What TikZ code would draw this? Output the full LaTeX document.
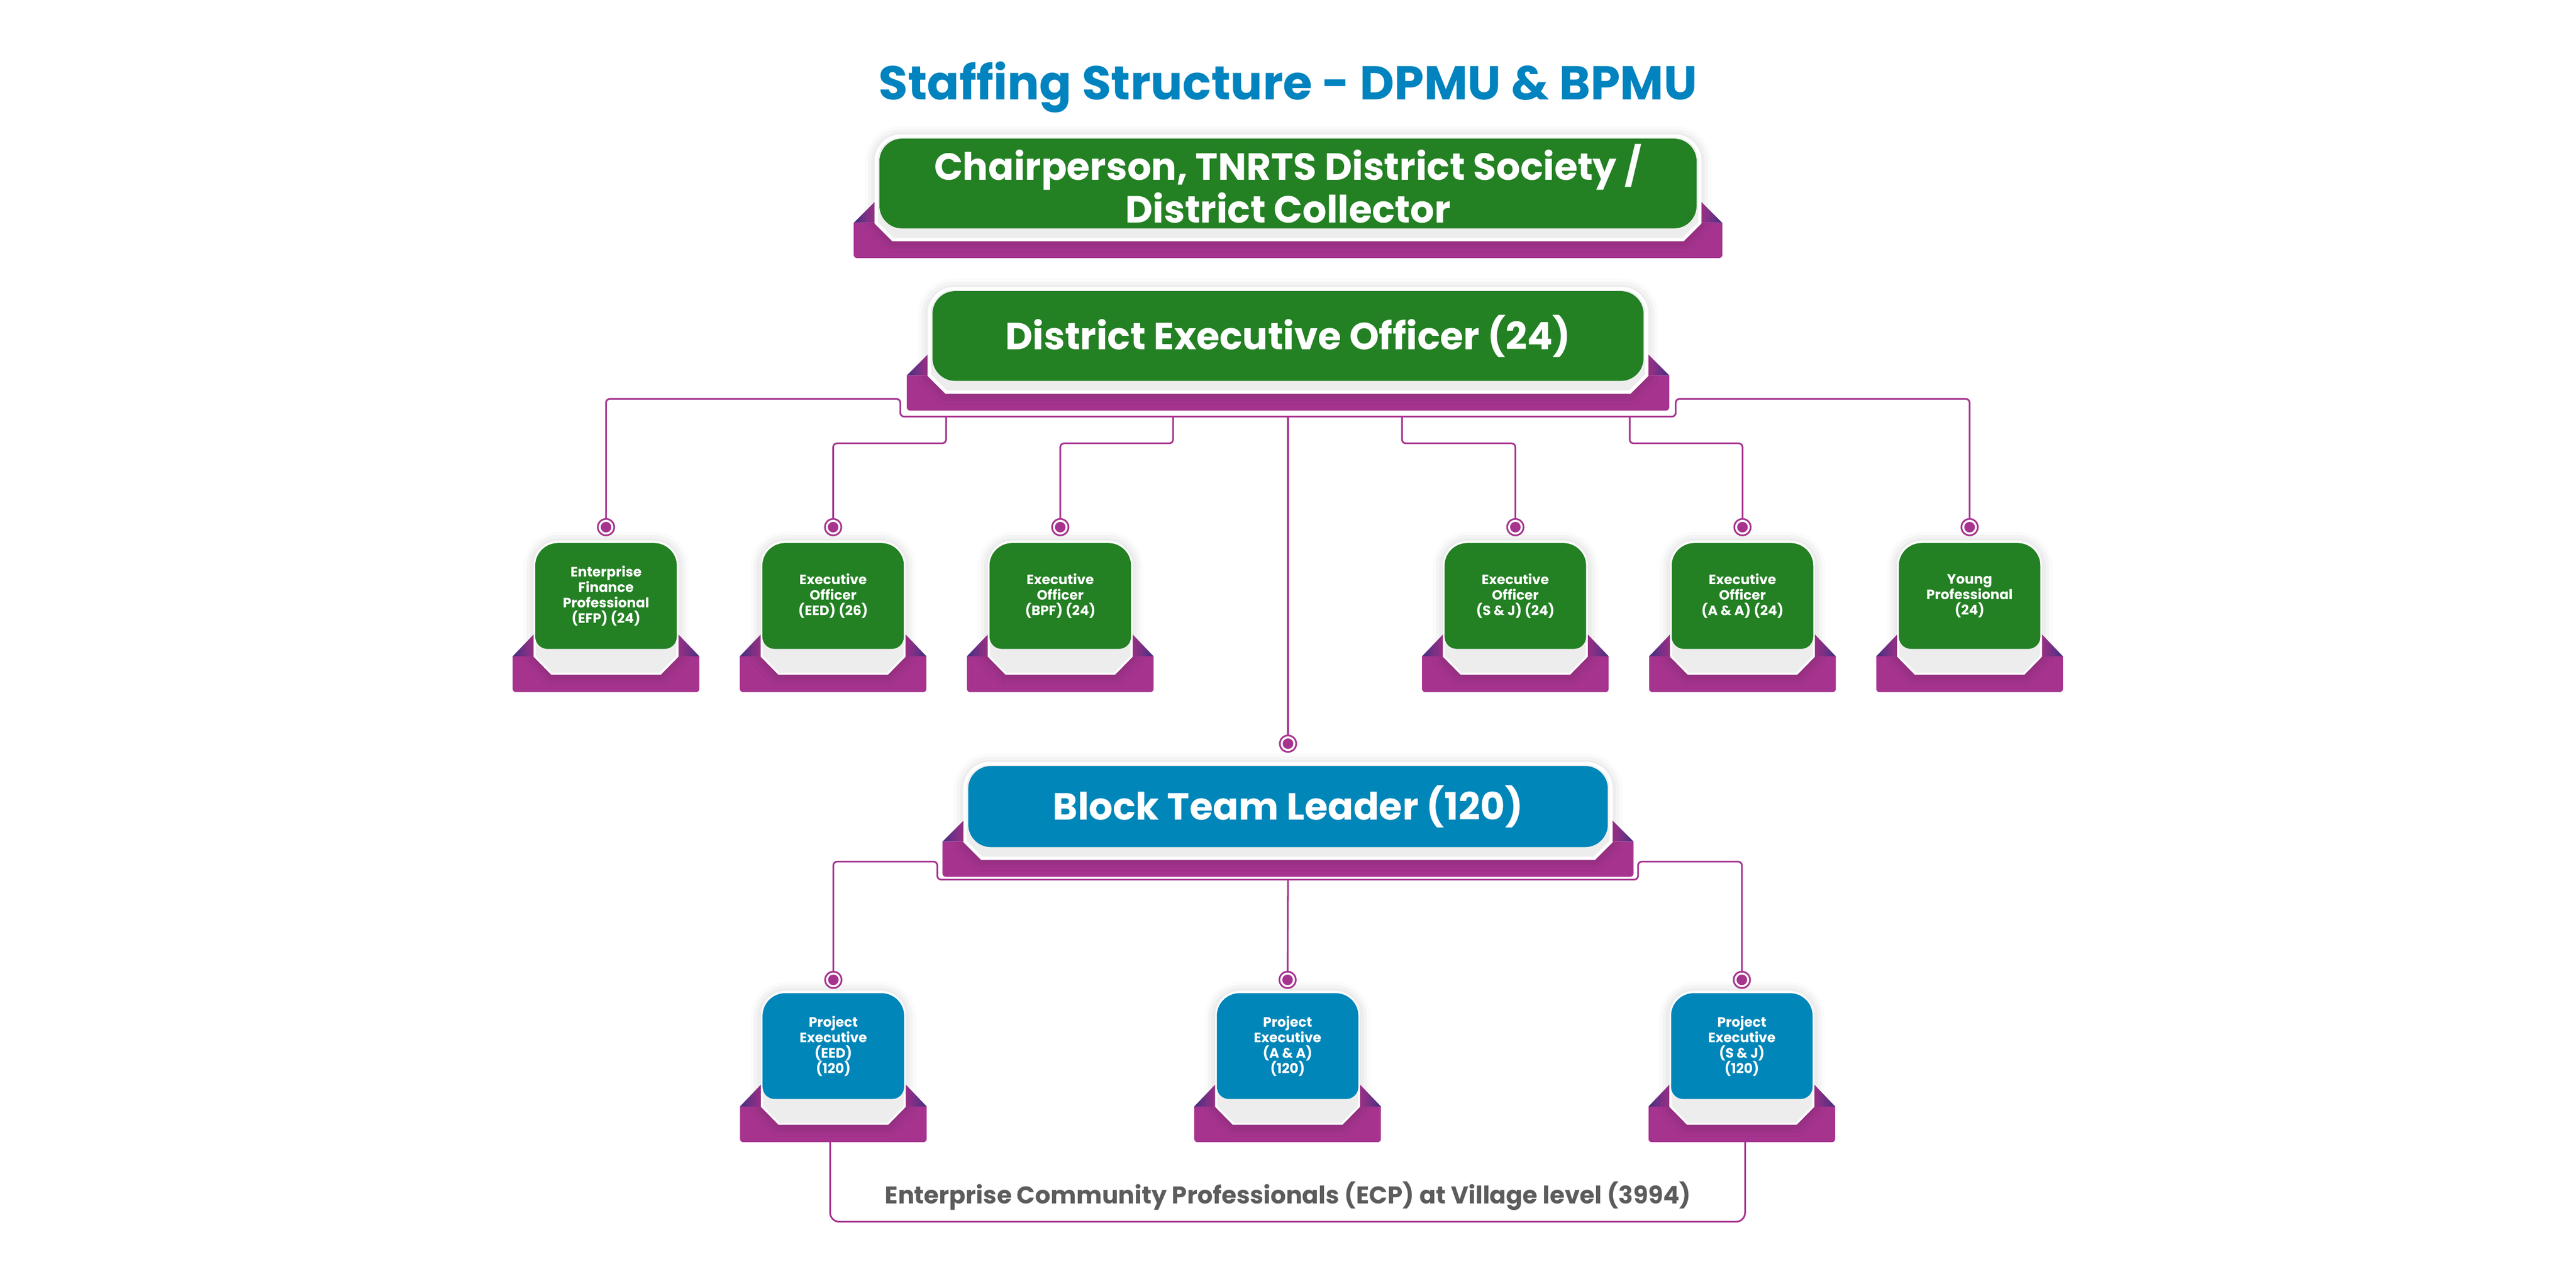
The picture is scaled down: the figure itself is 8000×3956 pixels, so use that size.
\documentclass[tikz,border=0pt]{standalone}
\usepackage{fontspec}
\setmainfont{Poppins}
\usetikzlibrary{positioning, calc, shadows.blur}

\definecolor{cardgreen}{RGB}{35,128,35}
\definecolor{cardblue}{RGB}{0,134,185}
\definecolor{traypurple}{RGB}{166,52,143}
\definecolor{traydark}{RGB}{64,46,125}
\definecolor{traygrey}{RGB}{237,237,237}
\definecolor{titleblue}{RGB}{0,131,190}
\definecolor{ecpgrey}{RGB}{92,92,92}

\pgfdeclarelayer{background}
\pgfsetlayers{background,main}

\tikzset{
  link/.style={draw=traypurple, line width=0.75pt, rounded corners=1.7pt},
  dot/.style={circle, draw=traypurple, line width=0.75pt, fill=white, minimum size=0.255cm,
    inner sep=0pt, outer sep=0pt,
    path picture={\fill[traypurple] (path picture bounding box.center) circle (2.35pt);}},
  bigcard/.style={text=white, font=\bfseries\fontsize{16.7}{16.7}\selectfont, align=center,
    minimum height=1.395cm, inner sep=0pt, outer sep=0pt},
  smallcard/.style={text=white, font=\bfseries\fontsize{6}{6.8}\selectfont, align=center,
    minimum width=2.2cm, minimum height=1.645cm, inner sep=0pt, outer sep=0pt},
  cardshadow/.style={blur shadow={shadow xshift=0pt, shadow yshift=-0.5pt,
    shadow blur radius=5pt, shadow opacity=22}},
}

% tray behind a small card: flaps, purple base, white frame, coloured face
\newcommand{\smalltray}[2]{%
  \begin{pgfonlayer}{background}
    \path[left color=traydark, right color=traypurple]
      ($(#1.south west)+(-70,23)$) -- ($(#1.south west)+(-5,-45)$) -- ($(#1.south west)+(-5,23)$) -- cycle;
    \path[left color=traypurple, right color=traydark]
      ($(#1.south east)+(70,23)$) -- ($(#1.south east)+(5,-45)$) -- ($(#1.south east)+(5,23)$) -- cycle;
    \fill[traypurple] ($(#1.south west)+(-70,23)$) [rounded corners=1.4pt] -- ($(#1.south west)+(-70,134)$)
      -- ($(#1.south east)+(70,134)$) [sharp corners] -- ($(#1.south east)+(70,23)$) -- cycle;
    \path[cardshadow, fill=traygrey, draw=white, line width=0.9pt]
      ($(#1.south west)+(-2,23)$) [rounded corners=10.7pt] -- ($(#1.north west)+(-2,-4)$)
      -- ($(#1.north east)+(2,-4)$) [sharp corners] -- ($(#1.south east)+(2,23)$)
      -- ($(#1.south east)+(-51,77)$) -- ($(#1.south west)+(51,77)$) -- cycle;
    \fill[#2] (#1.west) [rounded corners=10pt] -- (#1.north west) -- (#1.north east) -- (#1.east)
      [rounded corners=5.4pt] -- (#1.south east) -- (#1.south west) -- cycle;
  \end{pgfonlayer}}

% tray behind a wide card
\newcommand{\bigtray}[2]{%
  \begin{pgfonlayer}{background}
    \path[left color=traydark, right color=traypurple]
      ($(#1.south west)+(-80,-17)$) -- ($(#1.south west)+(-15,-82)$) -- ($(#1.south west)+(-15,-17)$) -- cycle;
    \path[left color=traypurple, right color=traydark]
      ($(#1.south east)+(80,-17)$) -- ($(#1.south east)+(15,-82)$) -- ($(#1.south east)+(15,-17)$) -- cycle;
    \fill[traypurple] ($(#1.south west)+(-80,-17)$) [rounded corners=1.4pt] -- ($(#1.south west)+(-80,92)$)
      -- ($(#1.south east)+(80,92)$) [sharp corners] -- ($(#1.south east)+(80,-17)$) -- cycle;
    \path[cardshadow, fill=traygrey, draw=white, line width=1.4pt]
      ($(#1.south west)+(-10,-17)$) [rounded corners=11pt] -- ($(#1.north west)+(-10,-8)$)
      -- ($(#1.north east)+(10,-8)$) [sharp corners] -- ($(#1.south east)+(10,-17)$)
      -- ($(#1.south east)+(-42,35)$) -- ($(#1.south west)+(42,35)$) -- cycle;
    \fill[#2, rounded corners=10pt] (#1.south west) rectangle (#1.north east);
  \end{pgfonlayer}}

\begin{document}
\begin{tikzpicture}[x=0.005cm, y=-0.005cm]
\useasboundingbox (0,0) rectangle (8000,3956);

\node[font=\bfseries\fontsize{21}{21}\selectfont, text=titleblue, anchor=base] (title) at (4000,310)
  {Staffing Structure - DPMU \& BPMU};

% top of the structure
\node[bigcard, minimum width=12.7cm] (chair) at (4000,570) {Chairperson, TNRTS District Society /\\District Collector};
\node[bigcard, minimum width=11.05cm, below=0.975cm of chair] (deo) {District Executive Officer (24)};
\node[bigcard, minimum width=9.94cm, minimum height=1.26cm] (btl) at (4000,2505) {Block Team Leader (120)};
\bigtray{chair}{cardgreen}
\bigtray{deo}{cardgreen}
\bigtray{btl}{cardblue}

% DPMU row
\node[smallcard] (efp) at (1882,1851) {Enterprise\\Finance\\Professional\\(EFP) (24)};
\node[smallcard, right=1.33cm of efp] (eed) {Executive\\Officer\\(EED) (26)};
\node[smallcard, right=1.33cm of eed] (bpf) {Executive\\Officer\\(BPF) (24)};
\node[smallcard] (sj) at (4706,1851) {Executive\\Officer\\(S \& J) (24)};
\node[smallcard, right=1.33cm of sj] (aa) {Executive\\Officer\\(A \& A) (24)};
\node[smallcard, right=1.33cm of aa] (young) {Young\\Professional\\(24)};
\smalltray{efp}{cardgreen}
\smalltray{eed}{cardgreen}
\smalltray{bpf}{cardgreen}
\smalltray{sj}{cardgreen}
\smalltray{aa}{cardgreen}
\smalltray{young}{cardgreen}

% BPMU row
\node[smallcard] (peeed) at (2588,3249) {Project\\Executive\\(EED)\\(120)};
\node[smallcard, right=4.86cm of peeed] (peaa) {Project\\Executive\\(A \& A)\\(120)};
\node[smallcard, right=4.86cm of peaa] (pesj) {Project\\Executive\\(S \& J)\\(120)};
\smalltray{peeed}{cardblue}
\smalltray{peaa}{cardblue}
\smalltray{pesj}{cardblue}

\node[font=\bfseries\fontsize{10.7}{10.7}\selectfont, text=ecpgrey, anchor=base] (ecp) at (4000,3738)
  {Enterprise Community Professionals (ECP) at Village level (3994)};

% dots
\node[dot, above=0.12cm of efp] (efpdot) {};
\node[dot, above=0.12cm of eed] (eeddot) {};
\node[dot, above=0.12cm of bpf] (bpfdot) {};
\node[dot, above=0.12cm of sj] (sjdot) {};
\node[dot, above=0.12cm of aa] (aadot) {};
\node[dot, above=0.12cm of young] (youngdot) {};
\node[dot, above=0.22cm of btl] (btldot) {};
\node[dot, above=0.08cm of peeed] (peeeddot) {};
\node[dot, above=0.08cm of peaa] (peaadot) {};
\node[dot, above=0.08cm of pesj] (pesjdot) {};

% DEO bracket
\coordinate (armL) at ($(deo.south west)+(-100,56)$);
\coordinate (barL) at ($(deo.south west)+(-100,111)$);
\coordinate (barR) at ($(deo.south east)+(100,111)$);
\coordinate (armR) at ($(deo.south east)+(100,56)$);
\coordinate (tapA) at ($(deo.south west)+(42,111)$);
\coordinate (tapB) at ($(deo.south)+(-357,111)$);
\coordinate (tapC) at ($(deo.south)+(354,111)$);
\coordinate (tapD) at ($(deo.south east)+(-43,111)$);
\draw[link] (efpdot.north) |- (armL) -- (barL) -- (barR) -- (armR) -| (youngdot.north);
\draw[link] (tapA) -- ++(0,83) -| (eeddot.north);
\draw[link] (tapB) -- ++(0,83) -| (bpfdot.north);
\draw[link] (deo.south |- barL) -- (btldot.north);
\draw[link] (tapC) -- ++(0,83) -| (sjdot.north);
\draw[link] (tapD) -- ++(0,83) -| (aadot.north);

% BTL bracket
\coordinate (barmL) at ($(btl.south west)+(-96,45)$);
\coordinate (bbarL) at ($(btl.south west)+(-96,101)$);
\coordinate (bbarR) at ($(btl.south east)+(94,101)$);
\coordinate (barmR) at ($(btl.south east)+(94,45)$);
\draw[link] (peeeddot.north) |- (barmL) -- (bbarL) -- (bbarR) -- (barmR) -| (pesjdot.north);
\draw[link] (btl.south |- bbarL) -- (peaadot.north);

% ECP bracket
\coordinate (ecpL) at ($(peeed.south)+(-10,381)$);
\coordinate (ecpR) at ($(pesj.south)+(10,381)$);
\draw[link, rounded corners=4pt] ($(peeed.south)+(-10,134)$) -- (ecpL) -- (ecpR) -- ($(pesj.south)+(10,134)$);
\end{tikzpicture}
\end{document}
